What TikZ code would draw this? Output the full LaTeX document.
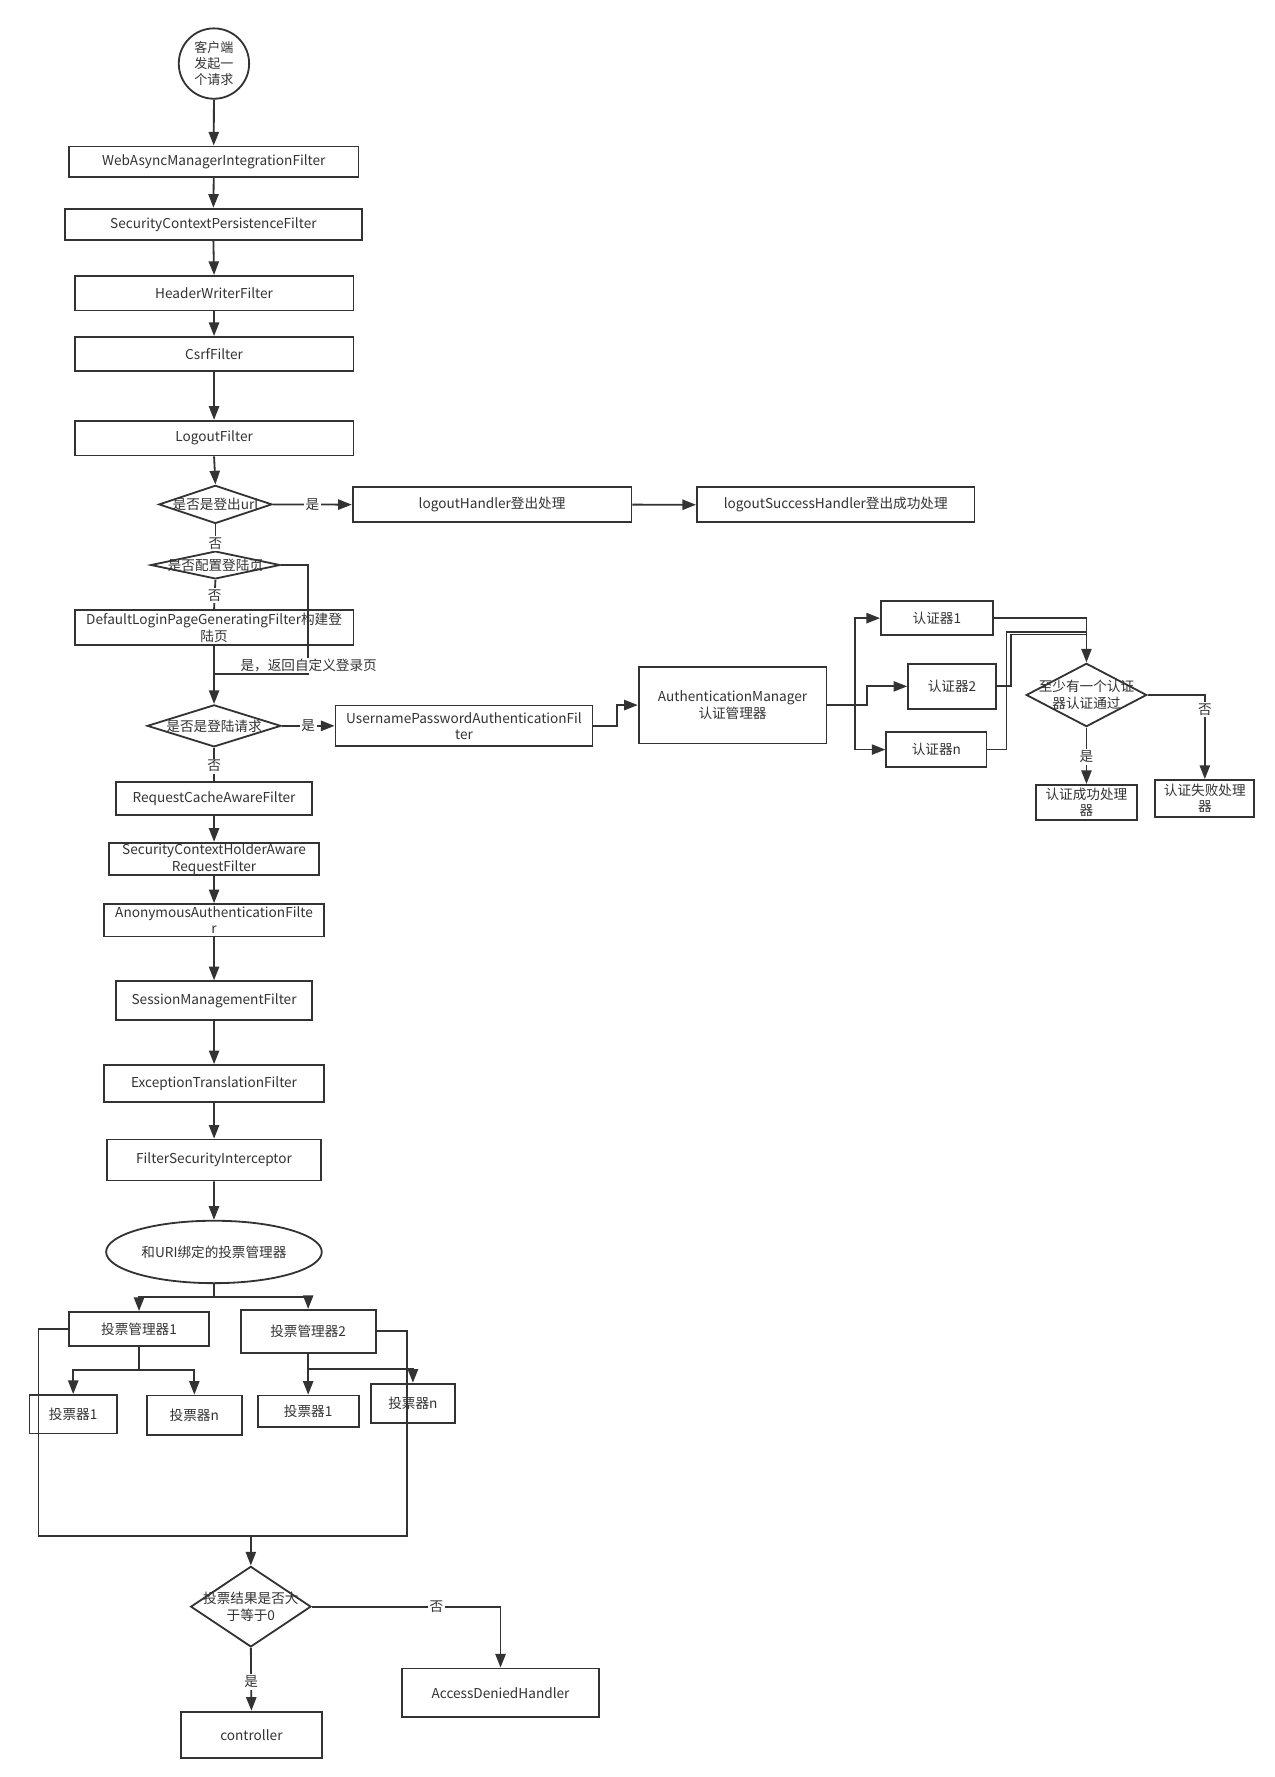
\documentclass[tikz,border=0pt]{standalone}
\usepackage{fontspec}
\setmainfont{Noto Sans CJK SC}
\usetikzlibrary{arrows.meta,shapes.geometric}
\definecolor{ln}{HTML}{333333}
\definecolor{tc}{HTML}{333333}
\begin{document}
\begin{tikzpicture}[x=1pt,y=-1pt,line width=1.6pt,color=ln,
  tx/.style={font=\fontsize{12}{14.4}\selectfont,text=tc,align=center,inner sep=0pt},
  bx/.style n args={3}{draw=ln,rectangle,minimum width=#1pt,minimum height=#2pt,inner sep=0pt,label={[tx]center:#3}},
  dia/.style n args={3}{draw=ln,diamond,minimum width=#1pt,minimum height=#2pt,inner sep=0pt,label={[tx]center:#3}},
  ell/.style n args={3}{draw=ln,ellipse,minimum width=#1pt,minimum height=#2pt,inner sep=0pt,label={[tx]center:#3}},
  circ/.style={draw=ln,circle,minimum size=62pt,inner sep=0pt},
  lbl/.style={tx,fill=white,inner sep=1.5pt},
  arr/.style={-{Triangle[length=12pt,width=9pt]}}]
\fill[white] (0,0) rectangle (1123.3,1565.6);
\useasboundingbox (0,0) rectangle (1123.3,1565.6);

% main column
\node[circ,label={[tx,font=\fontsize{11.5}{14.2}\selectfont]center:客户端\\发起一\\个请求}] (c0) at (188.5,56) {};
\node[bx={255}{27}{WebAsyncManagerIntegrationFilter}] (b1) at (188.3,142.5) {};
\node[bx={262}{27.6}{SecurityContextPersistenceFilter}] (b2) at (188,197.6) {};
\node[bx={245.6}{30.5}{HeaderWriterFilter}] (b3) at (188.6,258.3) {};
\node[bx={245.6}{30.3}{CsrfFilter}] (b4) at (188.6,312) {};
\node[bx={245.6}{30.6}{LogoutFilter}] (b5) at (188.6,386) {};
\node[dia={99.7}{33.6}{是否是登出url}] (d1) at (189.8,444.4) {};
\node[bx={245.6}{30.6}{logoutHandler登出处理}] (lh) at (433.5,444.6) {};
\node[bx={244.6}{30.6}{logoutSuccessHandler登出成功处理}] (lsh) at (736.3,444.7) {};
\node[dia={114}{24.5}{是否配置登陆页}] (d2) at (189.8,497.8) {};
\node[bx={245.7}{30.8}{DefaultLoginPageGeneratingFilter构建登\\陆页}] (dl) at (188.6,553) {};
\node[dia={117.8}{37}{是否是登陆请求}] (d3) at (188.6,639.5) {};
\node[bx={226.4}{36}{UsernamePasswordAuthenticationFil\\ter}] (up) at (408.8,639.5) {};
\node[bx={165.4}{67.6}{AuthenticationManager\\认证管理器}] (am) at (645.4,621.2) {};
\node[bx={98.4}{29.7}{认证器1}] (a1) at (825.4,544.6) {};
\node[bx={77.5}{40}{认证器2}] (a2) at (838.8,604.7) {};
\node[bx={88.3}{30.8}{认证器n}] (an) at (825,660.4) {};
\node[dia={106.2}{55.8}{至少有一个认证\\器认证通过}] (d4) at (957.2,612.3) {};
\node[bx={89.1}{30.9}{认证成功处理\\器}] (sh) at (957.2,707) {};
\node[bx={87.2}{32.3}{认证失败处理\\器}] (fh) at (1061.5,703.3) {};
\node[bx={172.2}{28.8}{RequestCacheAwareFilter}] (r1) at (188.6,703.4) {};
\node[bx={184.5}{28.8}{SecurityContextHolderAware\\RequestFilter}] (r2) at (188.6,756.8) {};
\node[bx={194}{28.5}{AnonymousAuthenticationFilte\\r}] (r3) at (188.6,810.8) {};
\node[bx={172.2}{34.2}{SessionManagementFilter}] (r4) at (188.6,881.6) {};
\node[bx={194}{32.3}{ExceptionTranslationFilter}] (r5) at (188.6,954.5) {};
\node[bx={188}{36}{FilterSecurityInterceptor}] (r6) at (188.6,1022) {};
\node[ell={190}{55}{和URI绑定的投票管理器}] (el) at (188.5,1103) {};
\node[bx={123}{30.3}{投票管理器1}] (m1) at (122.5,1171) {};
\node[bx={119}{38}{投票管理器2}] (m2) at (271.5,1173) {};
\node[bx={77}{34}{投票器1}] (v11) at (64.5,1246) {};
\node[bx={83.5}{34.5}{投票器n}] (v1n) at (171.2,1246.8) {};
\node[bx={89}{27.5}{投票器1}] (v21) at (271.5,1243.3) {};
\node[bx={74.5}{34.5}{投票器n}] (v2n) at (363.8,1236.3) {};
\node[dia={106}{71}{投票结果是否大\\于等于0}] (d5) at (221,1415.5) {};
\node[bx={124}{41}{controller}] (ctl) at (221.5,1528.5) {};
\node[bx={174}{43}{AccessDeniedHandler}] (adh) at (441,1491.5) {};

% coordinates
\coordinate (jr) at (271,594);
\coordinate (jm) at (188.6,594);
\coordinate (amj) at (753.6,621.2);
\coordinate (amj2) at (763.8,621.2);
\coordinate (mj1) at (957.2,557);
\coordinate (mj2) at (957.2,559);
\coordinate (es) at (188.5,1142.5);
\coordinate (m1s) at (122.5,1207);
\coordinate (m2s) at (271.5,1206);
\coordinate (lpL) at (34,1353);
\coordinate (lpR) at (358.5,1353);
\coordinate (lpM) at (221,1353);

% connectors
\draw[arr] (c0.south) -- (b1.north);
\draw[arr] (b1.south) -- (b2.north);
\draw[arr] (b2.south) -- (b3.north);
\draw[arr] (b3.south) -- (b4.north);
\draw[arr] (b4.south) -- (b5.north);
\draw[arr] (b5.south) -- (d1.north);
\draw[arr] (d1.east) -- (lh.west) node[lbl,midway]{是};
\draw[arr] (lh.east) -- (lsh.west);
\draw (d1.south) -- (d2.north) node[lbl,pos=0.73]{否};
\draw (d2.south) -- (dl.north) node[lbl,pos=0.54]{否};
\draw (d2.east) -| (jr) -- (jm);
\node[lbl,inner sep=1pt] (lbj) at (272,586.5) {是，返回自定义登录页};
\draw[arr] (dl.south) -- (d3.north);
\draw[arr] (d3.east) -- (up.west) node[lbl,midway]{是};
\draw[arr] (up.east) -- ++(20.7,0) |- (am.west);
\draw[arr] (am.east) -- (amj) |- (a1.west);
\draw[arr] (amj) |- (an.west);
\draw[arr] (amj) -- (amj2) |- (a2.west);
\draw[arr] (a1.east) -| (d4.north);
\draw (a2.east) -- ++(12.5,0) |- (mj2);
\draw (an.east) -- ++(16.8,0) |- (mj1);
\draw[arr] (d4.south) -- (sh.north) node[lbl,pos=0.52]{是};
\draw[arr] (d4.east) -| (fh.north) node[lbl,pos=0.585]{否};
\draw (d3.south) -- (r1.north) node[lbl,pos=0.55]{否};
\draw[arr] (r1.south) -- (r2.north);
\draw[arr] (r2.south) -- (r3.north);
\draw[arr] (r3.south) -- (r4.north);
\draw[arr] (r4.south) -- (r5.north);
\draw[arr] (r5.south) -- (r6.north);
\draw[arr] (r6.south) -- (el.north);
\draw (el.south) -- (es);
\draw[arr] (es) -| (m1.north);
\draw[arr] (es) -| (m2.north);
\draw (m1.south) -- (m1s);
\draw[arr] (m1s) -| (v11.north);
\draw[arr] (m1s) -| (v1n.north);
\draw (m2.south) -- (m2s);
\draw[arr] (m2s) -- (v21.north);
\draw[arr] (m2s) -| (v2n.north);
\draw (m1.west) -| (lpL) -- (lpR) |- (m2.east);
\draw[arr] (lpM) -- (d5.north);
\draw[arr] (d5.east) -| (adh.north) node[lbl,pos=0.33]{否};
\draw[arr] (d5.south) -- (ctl.north) node[lbl,pos=0.54]{是};
\end{tikzpicture}
\end{document}
